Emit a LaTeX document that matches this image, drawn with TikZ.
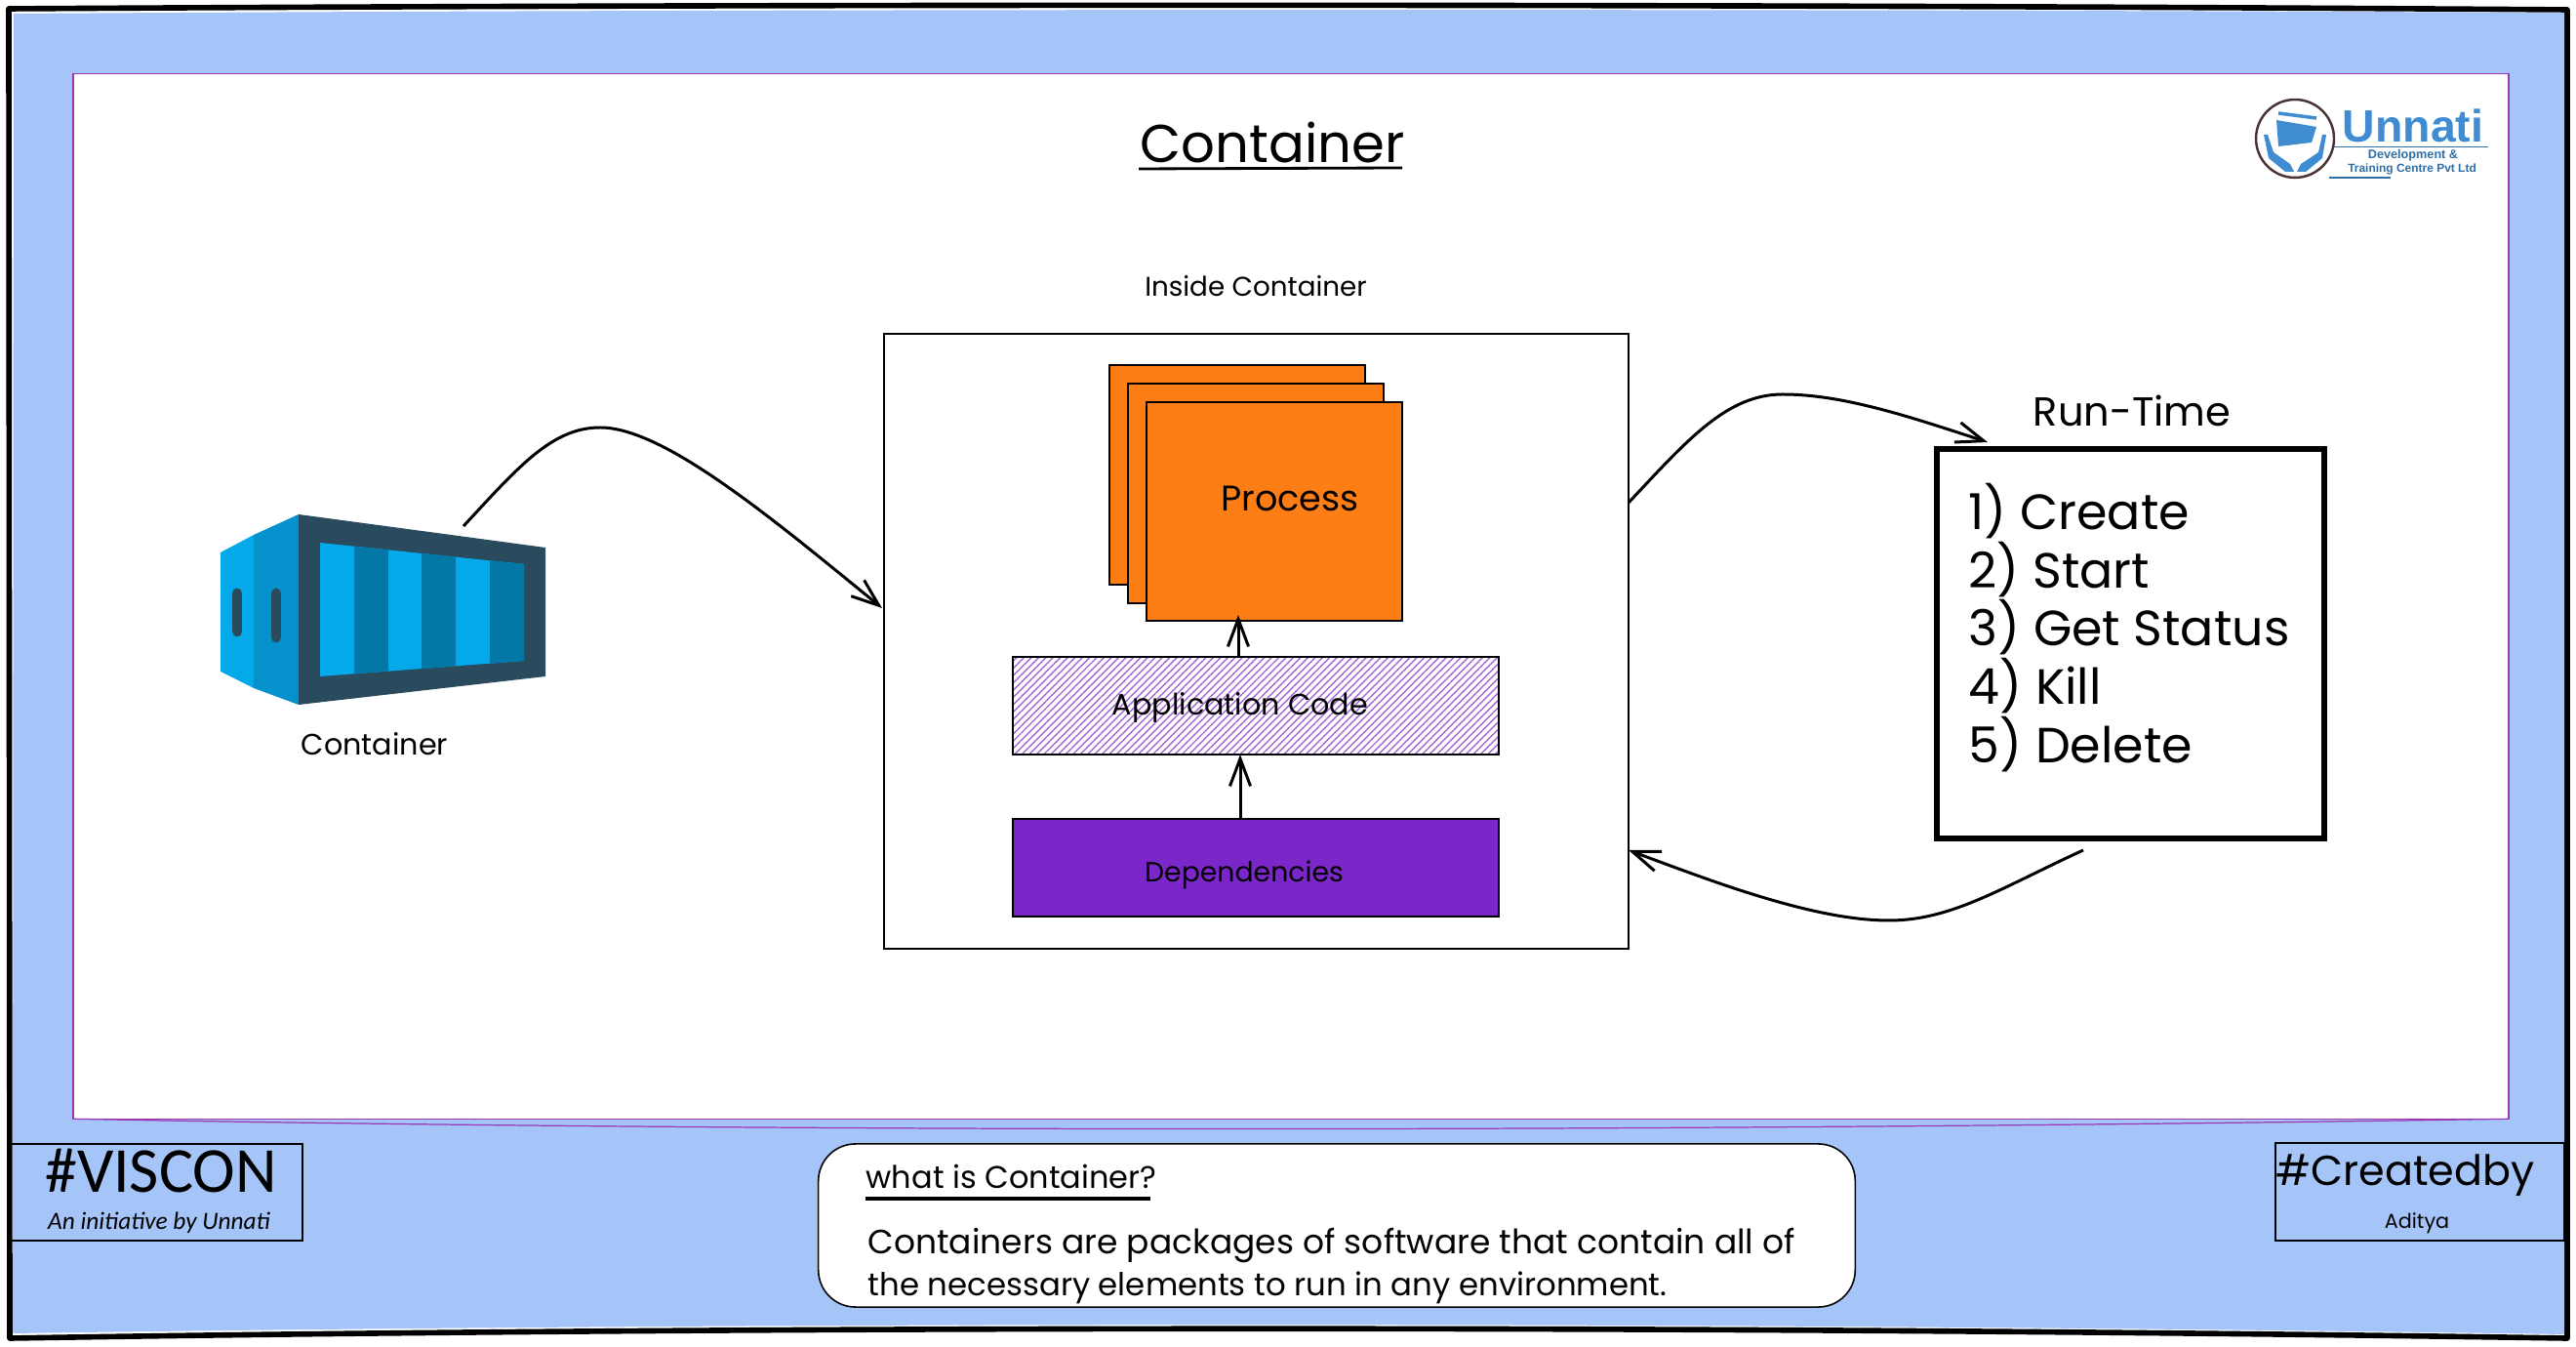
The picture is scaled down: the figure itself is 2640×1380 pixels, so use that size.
\documentclass[tikz,border=0pt]{standalone}
\usepackage{fontspec}
\usepackage{xcolor}
\usetikzlibrary{arrows.meta,patterns.meta}
\setmainfont{Poppins}
\newfontfamily\narrowfont{Carlito}
\newfontfamily\logofont{Liberation Sans}
\newcommand{\fsz}[2]{\fontsize{#1}{#2}\selectfont}
\definecolor{pageblue}{HTML}{A5C4F8}
\definecolor{panelline}{HTML}{9C36B5}
\definecolor{procorange}{HTML}{FD7E14}
\definecolor{deppurple}{HTML}{7B26C9}
\definecolor{ctrlight}{HTML}{04A9EA}
\definecolor{ctrmid}{HTML}{0592CC}
\definecolor{ctrdark}{HTML}{0378A6}
\definecolor{ctrframe}{HTML}{2A4A5E}
\definecolor{logoblue}{HTML}{3F8CD2}
\definecolor{logotext}{HTML}{2F6FA8}
\definecolor{logoring}{HTML}{4A3333}
\tikzset{
  box/.style={draw=black,line width=.45pt,inner sep=0pt,outer sep=0pt},
  conn/.style={line width=.85pt,-{Straight Barb[length=8pt,width=6pt]}},
  lbl/.style={inner sep=0pt,text=black},
}
\begin{document}
\begin{tikzpicture}[x=0.01cm,y=-0.01cm]
\useasboundingbox (0,0) rectangle (2640,1380);
\fill [white] (0,0) rectangle (2640,1380);

% page frame
\draw [line width=1.6pt,line join=round,fill=white] (9,9) .. controls (800,4) and (1800,4) .. (2631,10) -- (2631,1371) .. controls (1800,1358) and (800,1358) .. (10,1371) -- cycle;
\fill [pageblue] (14,14) .. controls (800,9) and (1800,9) .. (2628,13) -- (2628,1367) .. controls (1800,1354) and (800,1354) .. (13,1366) -- cycle;

% white panel
\node (panel) at (1323,611) [box,draw=panelline,fill=white,minimum width=24.94cm,minimum height=10.70cm] {};
\draw [panelline,line width=.35pt] (panel.south west) .. controls (800,1160) and (1700,1160) .. (panel.south east);

\node (title) at (1304,146) [lbl] {\fsz{15.5}{18}Container};
\draw [line width=.8pt] (1167,173) -- (1437,172);

% logo
\draw [line width=.7pt,color=logoring] (2352,142) circle (40);
\draw [logoblue,line width=1pt] (2335,116) -- (2374,121);
\fill [logoblue] (2333,123) -- (2374,130) -- (2369,146) -- (2335,150) -- cycle;
\fill [logoblue] (2320,138) -- (2324,138) -- (2330,156) -- (2347,168) -- (2351,176) -- (2342,176) -- (2325,162) -- cycle;
\fill [logoblue] (2384,138) -- (2380,138) -- (2376,156) -- (2358,168) -- (2354,176) -- (2363,176) -- (2380,162) -- cycle;
\node (unnati) at (2473,129) [lbl,text=logoblue] {\logofont\bfseries\fsz{13.2}{14}Unnati};
\draw [logotext,line width=.25pt] (2392,150) -- (2550,150);
\node (devel) at (2473,159) [lbl,text=logotext] {\logofont\bfseries\fsz{3.6}{4}Development \&};
\node (train) at (2472,173) [lbl,text=logotext] {\logofont\bfseries\fsz{3.4}{4}Training Centre Pvt Ltd};
\draw [logotext,line width=.3pt] (2387,182) -- (2450,182);

% container icon
\fill [ctrlight] (226,566) -- (260,548) -- (260,705) -- (226,688) -- cycle;
\fill [ctrmid] (260,548) -- (306,527) -- (306,722) -- (260,705) -- cycle;
\fill [ctrframe] (306,527) -- (559,561) -- (559,693) -- (306,722) -- cycle;
\fill [ctrlight] (328,556) -- (537,578) -- (537,677) -- (328,693) -- cycle;
\begin{scope}
\clip (328,556) -- (537,578) -- (537,677) -- (328,693) -- cycle;
\foreach \i in {1,3,5} {
  \fill [ctrdark] ({328+\i*34.8},500) rectangle ({328+(\i+1)*34.8},800);
}
\end{scope}
\draw [ctrframe,line width=3.1pt,line cap=round] (243,608) -- (243,647);
\draw [ctrframe,line width=3.1pt,line cap=round] (283,608) -- (283,653);
\node (ctrlabel) at (384,762) [lbl] {\fsz{8.6}{10}Container};

% inside container
\node (insidelabel) at (1287,293) [lbl] {\fsz{7.9}{9}Inside Container};
\node (inside) at (1287.5,657) [box,fill=white,minimum width=7.63cm,minimum height=6.30cm] {};
\node (procC) at (1268,486.5) [box,line width=.65pt,fill=procorange,minimum width=2.62cm,minimum height=2.25cm] {};
\node (procB) at (1287,505.5) [box,line width=.65pt,fill=procorange,minimum width=2.62cm,minimum height=2.25cm] {};
\node (process) at (1306,524) [box,line width=.65pt,fill=procorange,minimum width=2.62cm,minimum height=2.24cm] {};
\node (processtext) at (1322,511) [lbl] {\fsz{10.4}{12}Process};
\node (app) at (1287,723) [box,pattern={Lines[angle=45,distance=1.5pt,line width=.4pt]},pattern color=deppurple!70,minimum width=4.98cm,minimum height=1.00cm] {};
\node (apptext) at (1271,725) [lbl] {\fsz{8.6}{10}Application Code};
\node (dep) at (1287,889) [box,fill=deppurple,minimum width=4.98cm,minimum height=1.00cm] {};
\node (deptext) at (1275,896) [lbl] {\fsz{8.05}{10}Dependencies};

\coordinate (appOut) at (1269,673);
\coordinate (procIn) at (1269,630);
\coordinate (depOut) at (1271,839);
\coordinate (appIn) at (1271,773);
\draw [conn] (appOut) -- (procIn);
\draw [conn] (depOut) -- (appIn);

% run-time list
\node (rtlabel) at (2185,421) [lbl] {\fsz{11.8}{14}Run-Time};
\node (rt) at (2183.5,659.5) [box,line width=1.7pt,fill=white,minimum width=3.97cm,minimum height=3.99cm] {};
\node (rtlist) at (2017,643) [lbl,anchor=west,align=left,font=\fsz{14.4}{17}] {1) Create\\2) Start\\3) Get Status\\4) Kill\\5) Delete};

\coordinate (iconOut) at (475,539);
\coordinate (insideIn) at (904,623);
\coordinate (insideOut) at (1669,515);
\coordinate (rtIn) at (2037,453);
\coordinate (rtOut) at (2135,871);
\coordinate (insideBack) at (1669,871);
\draw [conn] (iconOut) .. controls (530,480) and (565,438) .. (615,438) .. controls (680,438) and (790,530) .. (insideIn);
\draw [conn] (insideOut) .. controls (1730,450) and (1770,404) .. (1827,404) .. controls (1890,404) and (1960,428) .. (rtIn);
\draw [conn] (rtOut) .. controls (2050,910) and (2000,943) .. (1936,943) .. controls (1860,943) and (1760,905) .. (insideBack);

% footer
\node (viscon) at (159,1221.5) [box,minimum width=3.02cm,minimum height=0.99cm] {};
\node (visconT) at (165,1200) [lbl] {\narrowfont\fsz{18.7}{20}\#VISCON};
\node (visconS) at (163,1253) [lbl] {\narrowfont\itshape\fsz{7.2}{8}An initiative by Unnati};
\node (created) at (2480,1221) [box,minimum width=2.96cm,minimum height=1.00cm] {};
\node (createdT) at (2465,1204) [lbl] {\fsz{12.2}{15}\#Createdby};
\node (createdS) at (2477,1253) [lbl] {\fsz{5.9}{7}Aditya};
\node (note) at (1370,1255.5) [box,fill=white,rounded corners=0.38cm,minimum width=10.62cm,minimum height=1.67cm] {};
\node (noteT) at (887,1205) [lbl,anchor=west] {\fsz{9.1}{10}what is Container?};
\draw [line width=1pt] (887,1228) -- (1179,1228);
\node (noteB) at (889,1276) [lbl,anchor=west] {\fsz{9.8}{12}Containers are packages of software that contain all of};
\node (noteC) at (889,1319) [lbl,anchor=west] {\fsz{9.2}{12}the necessary elements to run in any environment.};
\end{tikzpicture}
\end{document}
